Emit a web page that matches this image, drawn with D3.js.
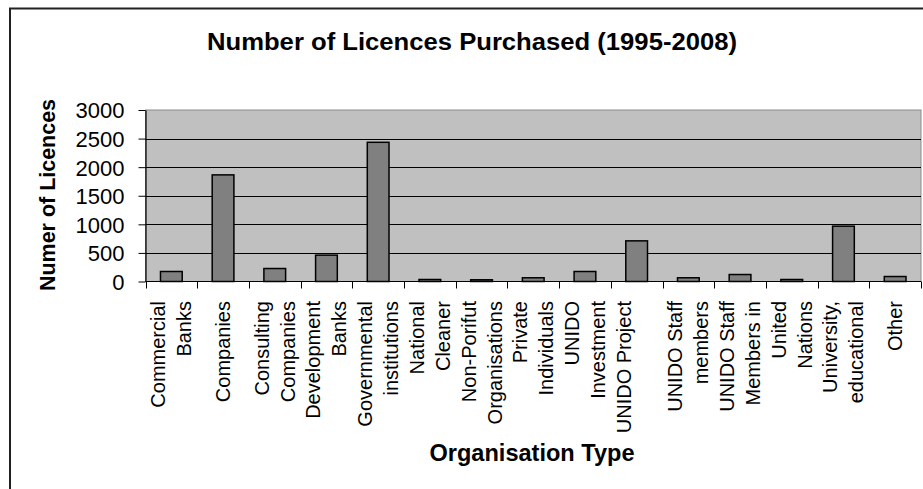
<!DOCTYPE html>
<html lang="en">
  <head>
    <meta charset="UTF-8" />
    <title>Number of Licences Purchased</title>
    <script src="https://cdn.jsdelivr.net/npm/d3@7/dist/d3.min.js"></script>
    <style>
      body {
        padding: 0;
        margin: 0;
        background: #fff;
      }
      svg {
        display: block;
        font-family: Arial, "Liberation Sans", sans-serif;
      }
    </style>
  </head>
  <body>
    <div id="chart"></div>
    <script>
      // categories, each entry is the lines shown under the bar
      const categories = [
        ["Commercial", "Banks"],
        ["Companies"],
        ["Consulting", "Companies"],
        ["Development", "Banks"],
        ["Governmental", "institutions"],
        ["National", "Cleaner"],
        ["Non-Porifut", "Organisations"],
        ["Private", "Individuals"],
        ["UNIDO", "Investment"],
        ["UNIDO Project", ""],
        ["UNIDO Staff", "members"],
        ["UNIDO Staff", "Members in"],
        ["United", "Nations"],
        ["University,", "educational"],
        ["Other"],
      ];
      const licences = [175, 1865, 227, 461, 2435, 35, 30, 65, 175, 711, 65, 122, 35, 968, 87];
      const yTicks = [0, 500, 1000, 1500, 2000, 2500, 3000];

      const width = 923,
        height = 489;
      const plot = { left: 145.5, right: 921, top: 110, bottom: 281.5 };

      const svg = d3
        .select("#chart")
        .append("svg")
        .attr("width", width)
        .attr("height", height);

      // outer chart frame (runs off the right and bottom edge)
      svg
        .append("rect")
        .attr("x", 10)
        .attr("y", 8.5)
        .attr("width", 940)
        .attr("height", 500)
        .attr("fill", "none")
        .attr("stroke", "#222")
        .attr("stroke-width", 2);

      const x = d3
        .scaleBand()
        .domain(d3.range(categories.length))
        .range([plot.left, plot.right])
        .paddingInner(0.58)
        .paddingOuter(0.29);

      const y = d3.scaleLinear().domain([0, 3000]).range([plot.bottom, plot.top]);

      // plot area
      svg
        .append("rect")
        .attr("x", plot.left)
        .attr("y", plot.top)
        .attr("width", plot.right - plot.left)
        .attr("height", plot.bottom - plot.top)
        .attr("fill", "#c0c0c0")
        .attr("stroke", "#8c8c8c")
        .attr("stroke-width", 1);

      // gridlines
      svg
        .append("g")
        .selectAll("line")
        .data(yTicks.filter((d) => d > 0 && d < 3000))
        .enter()
        .append("line")
        .attr("x1", plot.left)
        .attr("x2", plot.right)
        .attr("y1", (d) => Math.round(y(d)) + 0.5)
        .attr("y2", (d) => Math.round(y(d)) + 0.5)
        .attr("stroke", "#000")
        .attr("stroke-width", 1);

      // bars
      svg
        .append("g")
        .selectAll("rect")
        .data(licences)
        .enter()
        .append("rect")
        .attr("x", (d, i) => x(i))
        .attr("y", (d) => y(d))
        .attr("width", x.bandwidth())
        .attr("height", (d) => plot.bottom - y(d))
        .attr("fill", "#808080")
        .attr("stroke", "#000")
        .attr("stroke-width", 1.5);

      // y axis
      const yAxis = svg
        .append("g")
        .attr("transform", `translate(${plot.left},0)`)
        .call(
          d3
            .axisLeft(y)
            .tickValues(yTicks)
            .tickFormat(d3.format("d"))
            .tickSize(7)
            .tickPadding(14)
            .tickSizeOuter(0)
        );
      yAxis.select(".domain").attr("stroke", "#000").attr("stroke-width", 1.2);
      yAxis.selectAll(".tick line").attr("stroke", "#000");
      yAxis
        .selectAll(".tick text")
        .attr("font-size", 22)
        .attr("font-family", "Arial, 'Liberation Sans', sans-serif")
        .attr("fill", "#000")
        .attr("dy", "0.36em");

      // x axis line and ticks at band edges
      const step = x.step();
      const edges = d3.range(categories.length + 1).map((i) => plot.left + i * step);
      svg
        .append("line")
        .attr("x1", plot.left)
        .attr("x2", plot.right)
        .attr("y1", plot.bottom)
        .attr("y2", plot.bottom)
        .attr("stroke", "#000")
        .attr("stroke-width", 1.2);
      svg
        .append("g")
        .selectAll("line")
        .data(edges)
        .enter()
        .append("line")
        .attr("x1", (d) => Math.round(d) + 0.5)
        .attr("x2", (d) => Math.round(d) + 0.5)
        .attr("y1", plot.bottom)
        .attr("y2", plot.bottom + 7)
        .attr("stroke", "#000");

      // category labels, rotated
      const lineGap = 26;
      const labels = svg
        .append("g")
        .selectAll("g")
        .data(categories)
        .enter()
        .append("g")
        .attr("transform", (d, i) => `translate(${x(i) + x.bandwidth() / 2},301)`);
      labels.each(function (lines) {
        const g = d3.select(this);
        lines.forEach((line, k) => {
          const off = (k - (lines.length - 1) / 2) * lineGap;
          g.append("text")
            .attr("transform", `translate(${off},0) rotate(-90)`)
            .attr("text-anchor", "end")
            .attr("dy", "0.35em")
            .attr("font-size", 20)
            .attr("fill", "#000")
            .text(line);
        });
      });

      // titles
      svg
        .append("text")
        .attr("x", 472)
        .attr("y", 50)
        .attr("text-anchor", "middle")
        .attr("font-size", 23)
        .attr("font-weight", "bold")
        .attr("textLength", 530)
        .attr("lengthAdjust", "spacingAndGlyphs")
        .text("Number of Licences Purchased (1995-2008)");

      svg
        .append("text")
        .attr("transform", "translate(55,195) rotate(-90)")
        .attr("text-anchor", "middle")
        .attr("font-size", 22)
        .attr("font-weight", "bold")
        .attr("textLength", 192)
        .attr("lengthAdjust", "spacingAndGlyphs")
        .text("Numer of Licences");

      svg
        .append("text")
        .attr("x", 532)
        .attr("y", 461)
        .attr("text-anchor", "middle")
        .attr("font-size", 23)
        .attr("font-weight", "bold")
        .attr("textLength", 205)
        .attr("lengthAdjust", "spacingAndGlyphs")
        .text("Organisation Type");
    </script>
  </body>
</html>
